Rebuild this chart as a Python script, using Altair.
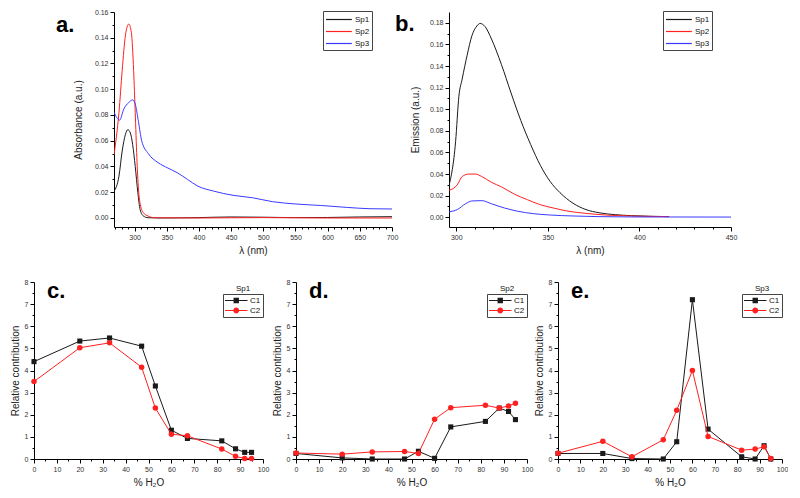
import altair as alt
import pandas as pd

FONT = "Liberation Sans"
BLACK = "#1a1a1a"
RED = "#ff2020"
BLUE = "#3a3aff"

# ---------------- Panel a: absorbance spectra ----------------
ABS_SP1_WL = [268, 275.7, 280.7, 285.8, 289.4, 293.4, 297, 301, 305, 308.6, 313.7, 321, 340, 400, 450, 500, 550, 600, 650, 700]
ABS_SP1 = [0.0206, 0.0325, 0.052, 0.065, 0.0686, 0.066, 0.057, 0.040, 0.020, 0.0065, 0.0015, 0.0002, 0.0, 0.0003, 0.0008, 0.0006, 0.0003, 0.0004, 0.0008, 0.001]
ABS_SP2_WL = [268, 275.7, 280.7, 285.8, 290.9, 295, 298.5, 301, 303.5, 306, 309, 313.7, 321, 331, 400, 500, 600, 700]
ABS_SP2 = [0.049, 0.082, 0.1145, 0.142, 0.1506, 0.144, 0.1145, 0.082, 0.047, 0.0226, 0.0102, 0.004, 0.0015, 0.0002, 0.0, 0.0003, 0.0, 0.0]
ABS_SP3_WL = [268, 276.7, 283.3, 290.9, 297, 301, 306, 311, 321.3, 336.5, 351.7, 366.9, 382.1, 397.3, 422.7, 453.1, 483.5, 514, 549.4, 590, 630.5, 666, 700]
ABS_SP3 = [0.0822, 0.076, 0.0847, 0.0897, 0.0917, 0.0885, 0.0748, 0.060, 0.050, 0.043, 0.0388, 0.035, 0.030, 0.025, 0.0209, 0.0176, 0.0157, 0.0127, 0.0109, 0.0097, 0.0082, 0.0072, 0.007]

# ---------------- Panel b: emission spectra ----------------
EM_SP1_WL = [296, 299.6, 301.4, 303.2, 305.9, 308.5, 311.2, 313, 315.7, 319.2, 324.6, 329.9, 335.2, 340.6, 345.9, 351.2, 356.6, 363.7, 370.8, 377.9, 386.8, 395.7, 406.4, 416.2]
EM_SP1 = [0.029, 0.070, 0.112, 0.128, 0.150, 0.168, 0.177, 0.1794, 0.1765, 0.165, 0.1415, 0.115, 0.0896, 0.0673, 0.048, 0.0332, 0.0228, 0.013, 0.0071, 0.0042, 0.0024, 0.0015, 0.0009, 0.0006]
EM_SP2_WL = [296, 300.5, 303.2, 306.8, 310.3, 313.9, 319.2, 324.6, 331.7, 338.8, 345.9, 353, 360.1, 370.8, 381.5, 395.7, 416.2]
EM_SP2 = [0.025, 0.030, 0.0377, 0.040, 0.040, 0.0377, 0.0323, 0.0282, 0.0214, 0.0163, 0.0116, 0.0086, 0.0059, 0.0036, 0.0021, 0.0012, 0.0006]
EM_SP3_WL = [296, 300.5, 305, 308.5, 313.9, 319.2, 326.3, 333.5, 342.3, 351.2, 363.7, 377.9, 395.7, 450]
EM_SP3 = [0.005, 0.0071, 0.0125, 0.0151, 0.0154, 0.0125, 0.0086, 0.0056, 0.0033, 0.0021, 0.0012, 0.0006, 0.0003, 0.0002]

SPECIES = ["Sp1", "Sp2", "Sp3"]

# ---------------- Panels c-e: relative contributions ----------------
H2O = [0, 20, 33, 47, 53, 60, 67, 82, 88, 92, 95]
SP1_C1 = [4.4, 5.33, 5.47, 5.1, 3.3, 1.3, 0.93, 0.82, 0.46, 0.3, 0.3]
SP1_C2 = [3.5, 5.03, 5.25, 4.15, 2.3, 1.12, 1.05, 0.45, 0.12, 0.02, 0.02]
SP2_C1 = [0.25, 0.05, 0.0, 0.0, 0.35, 0.03, 1.45, 1.7, 2.3, 2.15, 1.78]
SP2_C2 = [0.27, 0.22, 0.32, 0.34, 0.25, 1.8, 2.32, 2.43, 2.3, 2.4, 2.52]
SP3_C1 = [0.25, 0.25, 0.02, 0.0, 0.78, 7.2, 1.35, 0.1, 0.0, 0.6, 0.0]
SP3_C2 = [0.26, 0.8, 0.1, 0.87, 2.2, 4.0, 1.02, 0.4, 0.45, 0.55, 0.02]
COMPS = ["C1", "C2"]

# ---------------- tick positions ----------------
ABS_TICKS = [0.0, 0.02, 0.04, 0.06, 0.08, 0.10, 0.12, 0.14, 0.16]
ABS_MINOR = [0.01, 0.03, 0.05, 0.07, 0.09, 0.11, 0.13, 0.15]
EM_TICKS = [0.0, 0.02, 0.04, 0.06, 0.08, 0.10, 0.12, 0.14, 0.16, 0.18]
EM_MINOR = [0.01, 0.03, 0.05, 0.07, 0.09, 0.11, 0.13, 0.15, 0.17]
ABS_XTICKS = [300, 350, 400, 450, 500, 550, 600, 650, 700]
ABS_XMINOR = [w for w in range(270, 700, 10) if w % 50]
EM_XTICKS = [300, 350, 400, 450]
EM_XMINOR = [w for w in range(310, 450, 10) if w % 50]
H2O_TICKS = [0, 10, 20, 30, 40, 50, 60, 70, 80, 90, 100]
H2O_MINOR = [5, 15, 25, 35, 45, 55, 65, 75, 85, 95]
CONTRIB_TICKS = [0, 1, 2, 3, 4, 5, 6, 7, 8]
CONTRIB_MINOR = [0.5, 1.5, 2.5, 3.5, 4.5, 5.5, 6.5, 7.5]

# legend symbols (custom SVG paths)
PATH_LINE = "M-1,0H3.7"
PATH_C1 = "M-1,-0.12H4V0.12H-1Z M0.9,-0.6H2.1V0.6H0.9Z"
PATH_C2 = "M-1,-0.12H4V0.12H-1Z M2.15,0A0.65,0.65 0 1,1 0.85,0A0.65,0.65 0 1,1 2.15,0Z"

H1 = 215
H2 = 177


def long_spectra(pairs):
    rows = []
    for name, (wl, vals) in zip(SPECIES, pairs):
        for w, v in zip(wl, vals):
            rows.append({"wl": w, "val": v, "spec": name})
    return pd.DataFrame(rows)


def letter_layer(letter, x, y):
    return alt.Chart(pd.DataFrame({"t": [letter]})).mark_text(
        align="left", baseline="alphabetic", fontSize=22, fontWeight="bold",
        font=FONT, color="black"
    ).encode(x=alt.value(x), y=alt.value(y), text="t:N")


def minor_layer(df, xf, yf, xminor, yminor):
    return alt.Chart(df).transform_filter("false").mark_point(opacity=0).encode(
        x=alt.X(xf, title="", axis=alt.Axis(values=xminor, orient="bottom", labels=False, domain=False,
                                            tickSize=2, title="", titleOpacity=0)),
        y=alt.Y(yf, title="", axis=alt.Axis(values=yminor, orient="left", labels=False, domain=False,
                                            tickSize=2, title="", titleOpacity=0)),
    )


def spectrum_panel(df, xdom, xticks, xminor, ydom, yticks, yminor, ytitle, letter, lx, ly, legx, width, ytp):
    lines = alt.Chart(df).mark_line(strokeWidth=1, interpolate="monotone", clip=True).encode(
        x=alt.X("wl:Q", scale=alt.Scale(domain=xdom, nice=False, zero=False),
                axis=alt.Axis(values=xticks, format="d", title="λ (nm)", titlePadding=5, orient="bottom")),
        y=alt.Y("val:Q", scale=alt.Scale(domain=ydom, nice=False, zero=False),
                axis=alt.Axis(values=yticks, format=".2f", title=ytitle, titlePadding=ytp, orient="left")),
        color=alt.Color("spec:N", scale=alt.Scale(domain=SPECIES, range=[BLACK, RED, BLUE]),
                        legend=alt.Legend(title=None, orient="none", legendX=legx, legendY=-1,
                                          symbolType=PATH_LINE, symbolSize=121, symbolStrokeWidth=1.2,
                                          labelOffset=17, labelFontSize=8, labelFont=FONT,
                                          labelColor="#111", padding=2, rowPadding=1,
                                          strokeColor="#444", fillColor="white")),
    )
    main = alt.layer(lines, letter_layer(letter, lx, ly))
    minor = minor_layer(df, "wl:Q", "val:Q", xminor, yminor)
    return alt.layer(main, minor).resolve_axis(
        x="independent", y="independent").properties(width=width, height=H1)


def contrib_panel(c1, c2, spname, letter, width):
    df = pd.DataFrame({"h2o": H2O + H2O, "v": c1 + c2, "comp": ["C1"] * len(H2O) + ["C2"] * len(H2O)})
    base = alt.Chart(df).encode(
        x=alt.X("h2o:Q", scale=alt.Scale(domain=[0, 100], nice=False),
                axis=alt.Axis(values=H2O_TICKS, format="d", title="%  H₂O", titlePadding=5, orient="bottom")),
        y=alt.Y("v:Q", scale=alt.Scale(domain=[0, 8], nice=False),
                axis=alt.Axis(values=CONTRIB_TICKS, format="d", title="Relative contribution", titlePadding=4, orient="left")),
    )
    l1 = base.transform_filter(alt.datum.comp == "C1").mark_line(color=BLACK, strokeWidth=1)
    p1 = base.transform_filter(alt.datum.comp == "C1").mark_point(shape="square", filled=True, size=26, color=BLACK, opacity=1)
    l2 = base.transform_filter(alt.datum.comp == "C2").mark_line(color=RED, strokeWidth=1)
    p2 = base.transform_filter(alt.datum.comp == "C2").mark_point(shape="circle", filled=True, size=30, color=RED, opacity=1)
    legx = width - 40
    legy = 12
    leg_def = dict(title=None, orient="none", legendX=legx, legendY=legy, symbolSize=81,
                   symbolStrokeWidth=0, labelOffset=16, labelFontSize=8, labelFont=FONT,
                   labelColor="#111", padding=2, rowPadding=1, strokeColor="#444", fillColor="white")
    leg = base.transform_filter("false").mark_point(filled=True, opacity=1).encode(
        color=alt.Color("comp:N", scale=alt.Scale(domain=COMPS, range=[BLACK, RED]), legend=alt.Legend(**leg_def)),
        shape=alt.Shape("comp:N", scale=alt.Scale(domain=COMPS, range=[PATH_C1, PATH_C2]), legend=alt.Legend(**leg_def)),
    )
    sp_title = alt.Chart(pd.DataFrame({"t": [spname]})).mark_text(
        align="center", baseline="alphabetic", fontSize=8, font=FONT, color="#111"
    ).encode(x=alt.value(legx + 20), y=alt.value(legy - 3), text="t:N")
    main = alt.layer(l1, p1, l2, p2, leg, sp_title, letter_layer(letter, 13, 16))
    minor = minor_layer(df, "h2o:Q", "v:Q", H2O_MINOR, CONTRIB_MINOR)
    return alt.layer(main, minor).resolve_axis(
        x="independent", y="independent").properties(width=width, height=H2)


def spacer(w, h, y0=0):
    return alt.Chart(pd.DataFrame({"s": [0]})).mark_rect(opacity=0).encode(
        x=alt.value(0), x2=alt.value(w), y=alt.value(y0), y2=alt.value(h)
    ).properties(width=w, height=h)


abs_df = long_spectra([(ABS_SP1_WL, ABS_SP1), (ABS_SP2_WL, ABS_SP2), (ABS_SP3_WL, ABS_SP3)])
em_df = long_spectra([(EM_SP1_WL, EM_SP1), (EM_SP2_WL, EM_SP2), (EM_SP3_WL, EM_SP3)])

WA, WB = 278, 282
WC, WD, WE = 229, 231, 224
LEFT = 26

pa = spectrum_panel(abs_df, [268, 700], ABS_XTICKS, ABS_XMINOR, [-0.007, 0.16], ABS_TICKS, ABS_MINOR,
                    "Absorbance (a.u.)", "a.", -58, 20, WA - 17 - 52, WA, 11)
pb = spectrum_panel(em_df, [296, 450], EM_XTICKS, EM_XMINOR, [-0.009, 0.19], EM_TICKS, EM_MINOR,
                    "Emission (a.u.)", "b.", -54, 19, WB - 18 - 50, WB, 9)
pc = contrib_panel(SP1_C1, SP1_C2, "Sp1", "c.", WC)
pdd = contrib_panel(SP2_C1, SP2_C2, "Sp2", "d.", WD)
pe = contrib_panel(SP3_C1, SP3_C2, "Sp3", "e.", WE)

row1 = alt.hconcat(spacer(LEFT + 80, H1 + 40), pa, spacer(57, H1), pb,
                   spacing=0, bounds="flush").resolve_scale(color="independent", shape="independent")
row2 = alt.hconcat(spacer(LEFT, H2, -10), pc, spacer(33, H2), pdd, spacer(31, H2), pe,
                   spacing=0, bounds="flush").resolve_scale(color="independent", shape="independent")

chart = alt.vconcat(row1, row2, spacing=5).resolve_scale(
    color="independent", shape="independent"
).properties(
    padding=0, background="white"
).configure_view(stroke=None).configure_axis(
    domainColor="black", tickColor="black", tickSize=4, labelFontSize=7, labelColor="#333",
    labelFont=FONT, titleFont=FONT, titleFontSize=10, titleFontWeight="normal", titleColor="#222",
    grid=False, labelPadding=2, labelOverlap=False, labelFlush=False, domainWidth=1, tickWidth=1,
)

chart.save("out.html", embed_options={"renderer": "svg", "actions": False})
